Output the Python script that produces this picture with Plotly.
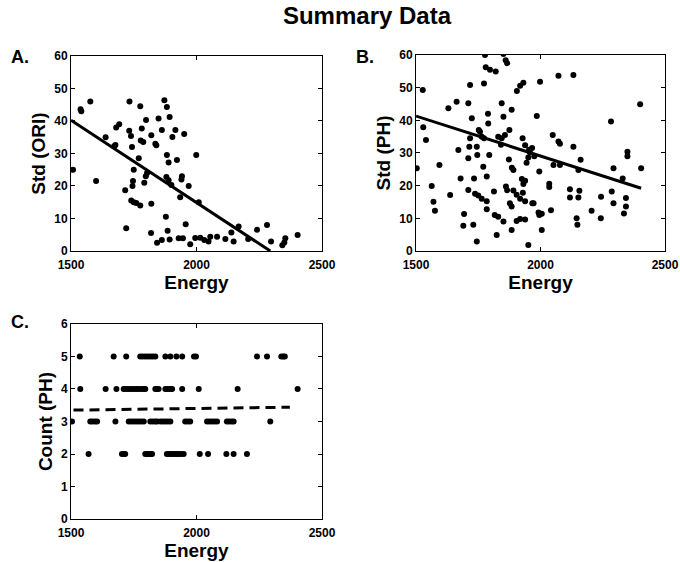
import plotly.graph_objects as go

# ---- Panel A: Std (ORI) vs Energy ----
a_energy = [1508, 1538, 1541, 1577, 1600, 1638, 1672, 1677, 1680, 1692, 1720, 1716, 1732, 1739,
            1733, 1743, 1745, 1747, 1750, 1740, 1750, 1760, 1776, 1770, 1776, 1782, 1778, 1788,
            1792, 1799, 1803, 1798, 1820, 1819, 1820, 1836, 1840, 1849, 1843, 1862, 1862, 1872,
            1882, 1878, 1880, 1882, 1885, 1889, 1889, 1893, 1893, 1900, 1904, 1916, 1922, 1935,
            1929, 1942, 1946, 1951, 1957, 1940, 1969, 1975, 1995, 1999, 2009, 2015, 2031, 2048,
            2055, 2082, 2115, 2139, 2148, 2168, 2206, 2241, 2281, 2297, 2342, 2354, 2403, 2350]
a_std = [25, 43.6, 43.0, 46, 21.5, 35, 32.2, 32.6, 38, 39, 7, 18.7, 37, 35.4,
         46, 32, 20, 21.5, 25, 15.5, 15, 14.8, 14, 28.5, 44.5, 37.7, 34, 33.5,
         21, 40.3, 24, 23, 14.5, 5.5, 35.6, 33, 32.5, 40.8, 2.5, 3.4, 37.2, 46.4,
         44.3, 10.5, 22.8, 29.5, 6.2, 21.8, 27.2, 41.2, 3.5, 20.3, 35.1, 37.2, 28, 16.5,
         3.9, 23, 3.9, 36, 8.2, 22, 20, 2.1, 4, 29.5, 15, 4.1, 3.4, 2.9,
         4.4, 4.4, 3.7, 5.7, 2.9, 7.5, 3.7, 6.5, 8, 2.9, 1.8, 3.9, 4.9, 2.6]
a_fit_x = [1500, 2294]
a_fit_y = [40.2, 0]

# ---- Panel B: Std (PH) vs Energy ----
b_energy = [1503, 1527, 1529, 1540, 1563, 1570, 1576, 1594, 1637, 1630, 1663, 1670, 1679, 1690,
            1693, 1710, 1717, 1724, 1710, 1717, 1714, 1710, 1730, 1733, 1737, 1750, 1764, 1784,
            1784, 1744, 1746, 1744, 1757, 1764, 1752, 1770, 1773, 1773, 1777, 1784, 1797, 1780,
            1789, 1790, 1794, 1813, 1816, 1830, 1820, 1824, 1830, 1844, 1857, 1841, 1851, 1851,
            1860, 1866, 1844, 1851, 1861, 1866, 1873, 1875, 1884, 1885, 1891, 1884, 1877, 1884,
            1891, 1904, 1905, 1918, 1931, 1904, 1918, 1938, 1918, 1929, 1938, 1925, 1931, 1938,
            1928, 1938, 1944, 1951, 1957, 1951, 1954, 1966, 1975, 1972, 1967, 1985, 1992, 2005,
            1998, 1995, 1995, 2005, 2035, 2035, 2042, 2049, 2052, 2072, 2072, 2078, 2078, 2132,
            2132, 2118, 2118, 2145, 2148, 2152, 2156, 2152, 2161, 2205, 2242, 2243, 2283, 2286,
            2293, 2293, 2330, 2335, 2343, 2343, 2349, 2349, 2400, 2404]
b_std = [25.3, 49.3, 37.9, 34, 19.9, 15.1, 12.3, 26.3, 17.1, 43.7, 45.7, 30.9, 22.2, 7.7,
         11.3, 45.2, 50.8, 40.6, 28.4, 34.5, 31.9, 18.7, 8, 22.2, 17.5, 17, 16, 15.2,
         12.8, 31.9, 29.4, 2.9, 36.5, 35, 37, 25.8, 34.5, 51.3, 60, 22.8, 55.5, 56.2,
         42, 39, 29.4, 18.2, 11, 10.5, 54.9, 4.9, 35, 34.5, 35.5, 32.5, 9, 60.3,
         58.4, 57.5, 45.2, 41.1, 19.7, 18.6, 28, 37, 43.2, 25.5, 24.8, 13.6, 14.6, 6.4,
         18.5, 17.2, 49, 50.6, 51.5, 9.2, 9.8, 9.6, 16, 17.8, 15.2, 22, 20.5, 21.5,
         34.5, 32.4, 27, 28.6, 30.2, 1.8, 31, 31.5, 29, 14.6, 14.6, 41.3, 11.8, 11.4,
         51.8, 24.3, 11, 6.4, 20.6, 19.6, 12.5, 35.5, 26.3, 53.6, 33.5, 32.8, 26.3, 53.9,
         31.9, 18.9, 16.4, 10, 8, 16.4, 18.4, 24.8, 27.9, 12.3, 10, 16.6, 39.6, 18.2,
         25.3, 14.6, 22.2, 11.5, 16.2, 13.6, 30.4, 29, 44.9, 25.3]
b_fit_x = [1500, 2404]
b_fit_y = [41.3, 19.2]

# ---- Panel C: Count (PH) vs Energy ----
c_energy_5 = [1535, 1670, 1720, 1776, 1786, 1796, 1806, 1816, 1826, 1836, 1876, 1896, 1920,
              1943, 1990, 1998, 2241, 2281, 2338, 2346, 2352]
c_energy_4 = [1537, 1638, 1681, 1710, 1720, 1730, 1740, 1750, 1760, 1770, 1780, 1790, 1796,
              1836, 1842, 1849, 1876, 1886, 1896, 1903, 1943, 2009, 2164, 2403]
c_energy_3 = [1504, 1577, 1586, 1596, 1604, 1677, 1730, 1740, 1750, 1760, 1770, 1780, 1790,
              1816, 1826, 1836, 1843, 1856, 1866, 1876, 1886, 1896, 1955, 1965, 1975, 2042,
              2052, 2062, 2072, 2082, 2121, 2130, 2140, 2148, 2294]
c_energy_2 = [1570, 1703, 1710, 1716, 1796, 1803, 1810, 1817, 1823, 1882, 1890, 1898, 1906,
              1914, 1922, 1930, 1938, 1949, 2013, 2046, 2119, 2148, 2201]
c_energy = c_energy_5 + c_energy_4 + c_energy_3 + c_energy_2
c_count = ([5] * len(c_energy_5) + [4] * len(c_energy_4) +
           [3] * len(c_energy_3) + [2] * len(c_energy_2))
c_fit_x = [1510, 2372]
c_fit_y = [3.35, 3.44]

FONT = "Liberation Sans"
marker = dict(color="black", size=6, symbol="circle")

fig = go.Figure()
fig.add_trace(go.Scatter(x=a_energy, y=a_std, mode="markers", marker=marker, xaxis="x", yaxis="y"))
fig.add_trace(go.Scatter(x=a_fit_x, y=a_fit_y, mode="lines", line=dict(color="black", width=3),
                         xaxis="x", yaxis="y"))
fig.add_trace(go.Scatter(x=b_energy, y=b_std, mode="markers", marker=marker, xaxis="x2", yaxis="y2"))
fig.add_trace(go.Scatter(x=b_fit_x, y=b_fit_y, mode="lines", line=dict(color="black", width=3),
                         xaxis="x2", yaxis="y2"))
fig.add_trace(go.Scatter(x=c_energy, y=c_count, mode="markers", marker=marker, xaxis="x3", yaxis="y3"))
fig.add_trace(go.Scatter(x=c_fit_x, y=c_fit_y, mode="lines",
                         line=dict(color="black", width=3, dash="10px,6px"),
                         xaxis="x3", yaxis="y3"))

tickfont = dict(family=FONT, size=12, color="black", weight="bold")
xtitlefont = dict(family=FONT, size=19, color="black", weight="bold")
ytitlefont = dict(family=FONT, size=19, color="black", weight="bold")


def xax(domain, anchor):
    return dict(domain=domain, anchor=anchor, range=[1500, 2500], tickvals=[1500, 2000, 2500],
                showline=True, mirror="ticks", linecolor="black", linewidth=1,
                ticks="inside", ticklen=4, tickcolor="black", showgrid=False, zeroline=False,
                automargin=False, tickfont=tickfont, ticklabelstandoff=3,
                title=dict(text="Energy", font=xtitlefont, standoff=0))


def yax(domain, anchor, rng, dtick, title):
    return dict(domain=domain, anchor=anchor, range=rng, dtick=dtick,
                showline=True, mirror="ticks", linecolor="black", linewidth=1,
                ticks="inside", ticklen=4, tickcolor="black", showgrid=False, zeroline=False,
                automargin=False, tickfont=tickfont,
                title=dict(text=title, font=ytitlefont, standoff=3))


fig.update_layout(
    width=680, height=562,
    margin=dict(l=0, r=0, t=0, b=0),
    paper_bgcolor="white", plot_bgcolor="white",
    showlegend=False,
    xaxis=xax([0.1044, 0.4735], "y"),
    yaxis=yax([0.5534, 0.9004], "x", [0, 60], 10, "Std (ORI)"),
    xaxis2=xax([0.6118, 0.978], "y2"),
    yaxis2=yax([0.5534, 0.9022], "x2", [0, 60], 10, "Std (PH)"),
    xaxis3=xax([0.1044, 0.4735], "y3"),
    yaxis3=yax([0.0765, 0.4235], "x3", [0, 6], 1, "Count (PH)"),
    title=dict(text="Summary Data", x=367 / 680, xanchor="center", y=1 - 16 / 562, yanchor="middle",
               font=dict(family=FONT, size=24, color="black", weight="bold")),
    annotations=[
        dict(text="A.", x=9 / 680, y=1 - 57 / 562, xref="paper", yref="paper",
             xanchor="left", yanchor="middle", showarrow=False,
             font=dict(family=FONT, size=18, color="black", weight="bold")),
        dict(text="B.", x=354 / 680, y=1 - 57 / 562, xref="paper", yref="paper",
             xanchor="left", yanchor="middle", showarrow=False,
             font=dict(family=FONT, size=18, color="black", weight="bold")),
        dict(text="C.", x=9 / 680, y=1 - 322 / 562, xref="paper", yref="paper",
             xanchor="left", yanchor="middle", showarrow=False,
             font=dict(family=FONT, size=18, color="black", weight="bold")),
    ],
)

fig.write_html("out.html", config={"displayModeBar": False},
               post_script="document.body.style.margin='0';")
